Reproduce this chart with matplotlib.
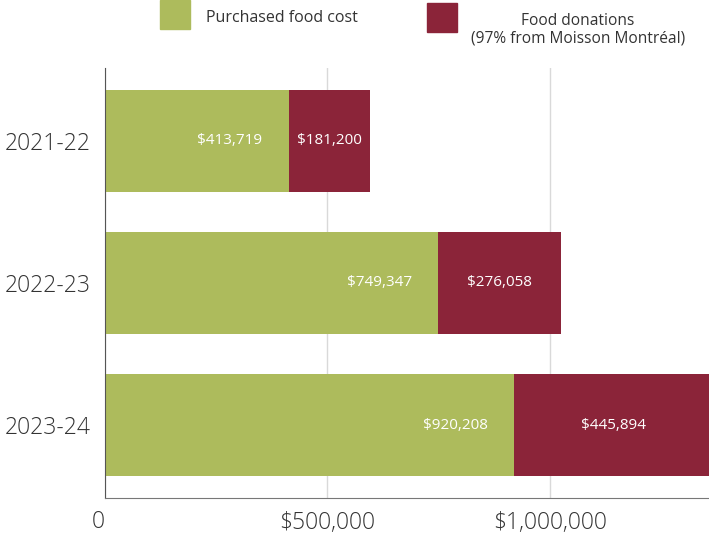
import matplotlib
matplotlib.use("Agg")
import matplotlib.pyplot as plt
from matplotlib.patches import Rectangle

categories = ["2021-22", "2022-23", "2023-24"]
purchased = [413719, 749347, 920208]
donations = [181200, 276058, 445894]
series_names = ["Purchased food cost", "Food donations\n(97% from Moisson Montréal)"]
tick_values = [0, 500000, 1000000]
tick_labels = ["0", "$500,000", "$1,000,000"]

GREEN = "#ADBB5C"
RED = "#8B2439"
FONT = "Open Sans"
plt.rcParams['font.family'] = [FONT, 'DejaVu Sans']

fig = plt.figure(figsize=(7.09, 5.33), dpi=100)
ax = fig.add_axes([105/709, 1 - 498/533, 1 - 105/709, (498 - 68)/533])

ypos = list(range(len(categories)))
h = 0.716
b1 = ax.barh(ypos, purchased, height=h, color=GREEN, zorder=2)
b2 = ax.barh(ypos, donations, left=purchased, height=h, color=RED, zorder=2)

for i in ypos:
    ax.annotate(f"${purchased[i]:,}", xy=(purchased[i], i), xytext=(-19, 0),
                textcoords="offset points", ha="right", va="center",
                color="white", fontsize=11, zorder=3)
    ax.annotate(f"${donations[i]:,}", xy=(purchased[i] + donations[i] / 2, i),
                ha="center", va="center", color="white", fontsize=11, zorder=3,
                annotation_clip=False)

ax.set_xlim(0, 1358000)
ax.set_ylim(len(categories) - 0.49, -0.51)
ax.set_xticks(tick_values)
ax.set_xticklabels(tick_labels, fontweight=300)
ax.set_yticks(ypos)
ax.set_yticklabels(categories, fontweight=300)
ax.tick_params(axis="both", length=0, labelsize=16.5, colors="#333333")
ax.tick_params(axis="x", pad=9)
ax.tick_params(axis="y", pad=10)
ax.get_xticklabels()[0].set_ha("right")
ax.xaxis.grid(True, color="#d9d9d9", linewidth=1, zorder=0)
ax.set_axisbelow(True)
for s in ["top", "right"]:
    ax.spines[s].set_visible(False)
ax.spines["left"].set_color("#555555")
ax.spines["bottom"].set_color("#777777")

# legend
W, H = 709, 533
fig.add_artist(Rectangle((160/W, 1 - 29/H), 30/W, 29/H, color=GREEN, transform=fig.transFigure))
fig.add_artist(Rectangle((427/W, 1 - 32/H), 30/W, 29/H, color=RED, transform=fig.transFigure))
fig.text(206/W, 1 - 18/H, series_names[0], ha="left", va="center", fontsize=11.5, color="#333333")
fig.text(578/W, 1 - 30/H, series_names[1], ha="center", va="center", fontsize=11.2,
         color="#333333", multialignment="center", linespacing=1.1)

fig.savefig("out.png", dpi=100)
